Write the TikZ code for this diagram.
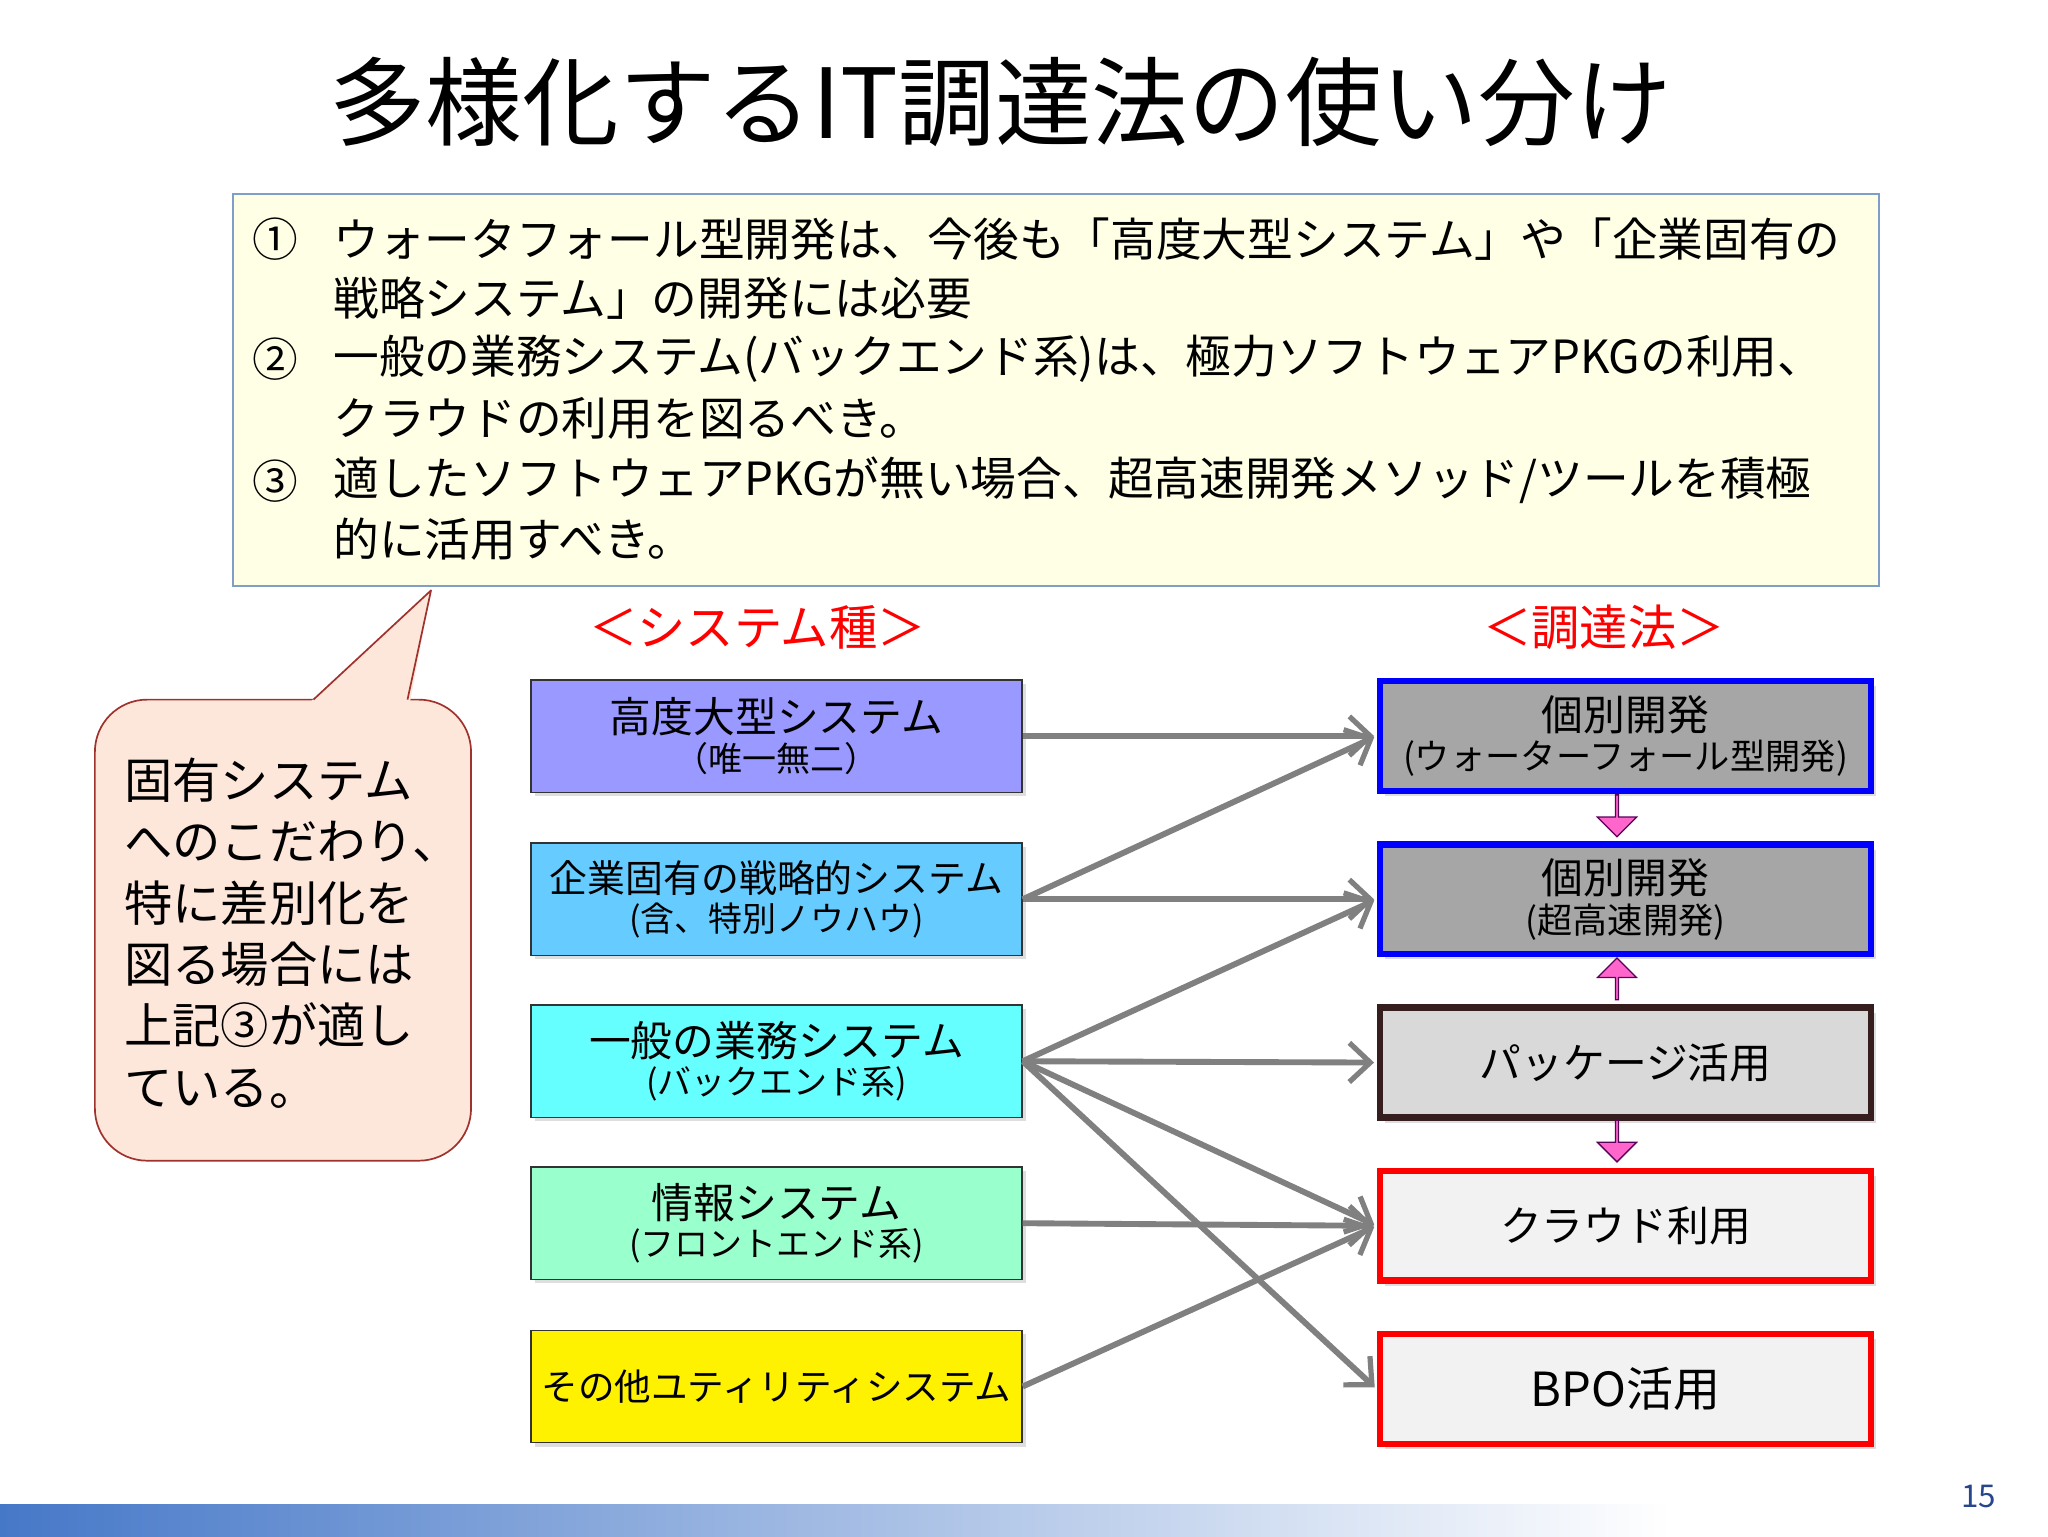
\documentclass[tikz,border=0pt]{standalone}
\usepackage{fontspec}
\setmainfont{Noto Sans CJK JP}
\usetikzlibrary{arrows.meta,shadows,shapes.arrows}
\definecolor{boxb}{HTML}{7F9FC8}
\definecolor{yel}{HTML}{FFFFE6}
\definecolor{calf}{HTML}{FDE6DA}
\definecolor{calb}{HTML}{A0322E}
\definecolor{pinkf}{HTML}{FF66CC}
\begin{document}
\begin{tikzpicture}[x=1pt,y=-1pt,
  lbox/.style={draw=black!80,line width=1pt,minimum width=376pt,minimum height=86pt,align=center,anchor=north west,inner sep=0pt,drop shadow={shadow xshift=3pt,shadow yshift=-3pt,fill=black!25}},
  rbox/.style={line width=5pt,minimum width=376pt,minimum height=84pt,align=center,anchor=north west,inner sep=0pt,drop shadow={shadow xshift=4pt,shadow yshift=-4pt,fill=black!25}},
  conn/.style={draw=black!50,line width=4.5pt,-{Straight Barb[length=16pt,width=30pt,line width=4pt]},shorten >=2pt},
  pk/.style={single arrow,draw=violet!70!black,fill=pinkf,line width=1pt,minimum height=32pt,minimum width=30pt,single arrow head extend=6pt,inner sep=0pt},
  tl/.style={anchor=west,font=\fontsize{35}{40}\selectfont,inner sep=0pt}]
\useasboundingbox (0,0) rectangle (1568,1176);
\fill[white] (0,0) rectangle (1568,1176);
% title
\node[font=\fontsize{74}{80}\selectfont] (title) at (766,78) {多様化するIT調達法の使い分け};
% top box
\node[draw=boxb,line width=1.2pt,fill=yel,minimum width=1260pt,minimum height=300pt,anchor=north west,inner sep=0pt] (top) at (178,148) {};
\node[tl] (n1) at (193,183) {①};
\node[tl] (t1) at (255,183) {ウォータフォール型開発は、今後も「高度大型システム」や「企業固有の};
\node[tl] (t2) at (255,228) {戦略システム」の開発には必要};
\node[tl] (n2) at (193,275) {②};
\node[tl] (t3) at (255,275) {一般の業務システム(バックエンド系)は、極力ソフトウェアPKGの利用、};
\node[tl] (t4) at (255,320) {クラウドの利用を図るべき。};
\node[tl] (n3) at (193,368) {③};
\node[tl] (t5) at (255,368) {適したソフトウェアPKGが無い場合、超高速開発メソッド/ツールを積極};
\node[tl] (t6) at (255,413) {的に活用すべき。};
% callout
\node[draw=calb,line width=1.3pt,fill=calf,rounded corners=40pt,minimum width=288pt,minimum height=353pt,anchor=north west,inner sep=0pt] (box) at (72,535) {};
\fill[calf] (238,537) -- (330,452) -- (314,537) -- cycle;
\draw[calb,line width=1.3pt,line join=round] (240,535.6) -- (330,452) -- (312,535.6);
\node[anchor=north west,align=left,inner sep=0pt,font=\fontsize{37}{47}\selectfont] (cal) at (95,580) {固有システム\\へのこだわり、\\特に差別化を\\図る場合には\\上記③が適し\\ている。};
% headers
\node[red,font=\fontsize{37}{40}\selectfont] (h1) at (580,480) {＜システム種＞};
\node[red,font=\fontsize{37}{40}\selectfont] (h2) at (1228,480) {＜調達法＞};
% left boxes
\node[lbox,fill={rgb,255:red,153;green,153;blue,255}] (L1) at (406,520) {\fontsize{32}{34}\selectfont 高度大型システム\\[4pt]\fontsize{26}{28}\selectfont （唯一無二）};
\node[lbox,fill={rgb,255:red,102;green,204;blue,255}] (L2) at (406,645) {\fontsize{29}{32}\selectfont 企業固有の戦略的システム\\[4pt]\fontsize{26}{28}\selectfont (含、特別ノウハウ)};
\node[lbox,fill={rgb,255:red,102;green,255;blue,255}] (L3) at (406,769) {\fontsize{32}{34}\selectfont 一般の業務システム\\[4pt]\fontsize{26}{28}\selectfont (バックエンド系)};
\node[lbox,fill={rgb,255:red,153;green,255;blue,204}] (L4) at (406,893) {\fontsize{32}{34}\selectfont 情報システム\\[4pt]\fontsize{26}{28}\selectfont (フロントエンド系)};
\node[lbox,fill=yellow] (L5) at (406,1018) {\fontsize{28}{32}\selectfont その他ユティリティシステム};
% right boxes
\node[rbox,draw=blue,fill=black!35] (R1) at (1054,519) {\fontsize{32}{34}\selectfont 個別開発\\[4pt]\fontsize{27}{29}\selectfont (ウォーターフォール型開発)};
\node[rbox,draw=blue,fill=black!35] (R2) at (1054,644) {\fontsize{32}{34}\selectfont 個別開発\\[4pt]\fontsize{27}{29}\selectfont (超高速開発)};
\node[rbox,draw={rgb,255:red,55;green,30;blue,30},fill=black!15] (R3) at (1054,769) {\fontsize{32}{34}\selectfont パッケージ活用};
\node[rbox,draw=red,fill=black!5] (R4) at (1054,894) {\fontsize{32}{34}\selectfont クラウド利用};
\node[rbox,draw=red,fill=black!5] (R5) at (1054,1019) {\fontsize{36}{40}\selectfont BPO活用};
% pink arrows
\node[pk,rotate=-90] (p1) at (1238,624) {};
\node[pk,rotate=90] (p2) at (1238,750) {};
\node[pk,rotate=-90] (p3) at (1238,873) {};
% connectors
\draw[conn] (L1.east) -- (R1.west);
\draw[conn] (L2.east) -- (R1.west);
\draw[conn] (L2.east) -- (R2.west);
\draw[conn] (L3.east) -- (R2.west);
\draw[conn] (L3.east) -- (R3.west);
\draw[conn] (L3.east) -- (R4.west);
\draw[conn] (L3.east) -- (R5.west);
\draw[conn] (L4.east) -- (R4.west);
\draw[conn] (L5.east) -- (R4.west);
% bottom bar
\shade[left color={rgb,255:red,70;green,120;blue,200},right color=white] (0,1152) rectangle (1280,1176);
\node[font=\fontsize{24}{28}\selectfont,text={rgb,255:red,40;green,70;blue,140}] (pg) at (1515,1146) {15};
\end{tikzpicture}
\end{document}
